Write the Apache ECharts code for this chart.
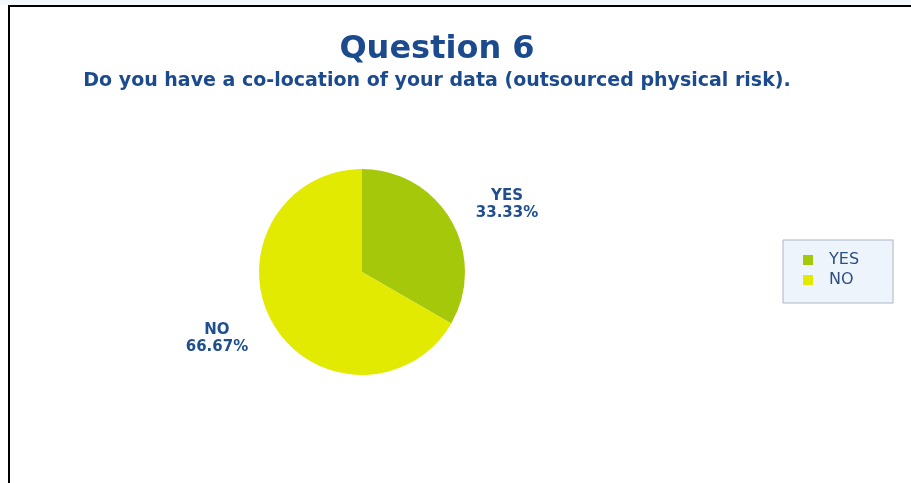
<!DOCTYPE html>
<html>
<head>
<meta charset="utf-8">
<script src="https://cdn.jsdelivr.net/npm/echarts@6/dist/echarts.min.js"></script>
<style>
  html, body { margin: 0; padding: 0; background: #ffffff; }
  #chart { width: 911px; height: 483px; }
</style>
</head>
<body>
<div id="chart"></div>
<script>
// Survey answers for question 6
const categories = ['YES', 'NO'];
const shares = [33.33, 66.67];
const sliceColors = ['#a6c80a', '#e3ea02'];

const titleText = 'Question 6';
const subtitleText = 'Do you have a co-location of your data (outsourced physical risk).';

const FONT = 'DejaVu Sans, Verdana, sans-serif';

const chart = echarts.init(document.getElementById('chart'), null, { renderer: 'canvas' });

const pieData = categories.map((name, i) => ({
  name: name,
  value: shares[i],
  itemStyle: { color: sliceColors[i] }
}));

chart.setOption({
  backgroundColor: '#ffffff',
  animation: false,
  title: {
    text: titleText,
    subtext: subtitleText,
    left: 432,
    textAlign: 'center',
    top: 29,
    itemGap: 6,
    textStyle: {
      fontFamily: FONT,
      fontSize: 32,
      fontWeight: 'bold',
      color: '#1b4a8e'
    },
    subtextStyle: {
      fontFamily: FONT,
      fontSize: 19,
      fontWeight: 'bold',
      color: '#1b4a8e'
    }
  },
  legend: {
    orient: 'vertical',
    left: 783,
    top: 240,
    padding: [12, 34, 15, 20],
    itemGap: 4,
    itemWidth: 10,
    itemHeight: 10,
    icon: 'rect',
    backgroundColor: '#eef4fb',
    borderColor: '#a9b4c4',
    borderWidth: 1,
    textStyle: {
      fontFamily: FONT,
      fontSize: 16,
      color: '#2d4e80',
      padding: [0, 0, 0, 11]
    },
    data: categories
  },
  graphic: [
    { type: 'rect', shape: { x: 0, y: 0, width: 911, height: 5 }, style: { fill: '#f3f8fd' }, silent: true },
    { type: 'line', shape: { x1: 8, y1: 6, x2: 911, y2: 6 }, style: { stroke: '#000000', lineWidth: 2 }, silent: true },
    { type: 'line', shape: { x1: 9, y1: 5, x2: 9, y2: 483 }, style: { stroke: '#000000', lineWidth: 2 }, silent: true }
  ],
  series: [{
    type: 'pie',
    center: [362, 272],
    radius: 103,
    startAngle: 90,
    clockwise: true,
    data: pieData,
    label: {
      show: true,
      position: 'outside',
      formatter: (p) => p.name + '\n' + p.value.toFixed(2) + '%',
      fontFamily: FONT,
      fontSize: 15,
      fontWeight: 'bold',
      lineHeight: 17,
      color: '#1f4f8f'
    },
    labelLine: { show: false, length: 31, length2: 24 },
    labelLayout: { align: 'center', verticalAlign: 'middle' },
    emphasis: { disabled: true }
  }]
});
</script>
</body>
</html>
